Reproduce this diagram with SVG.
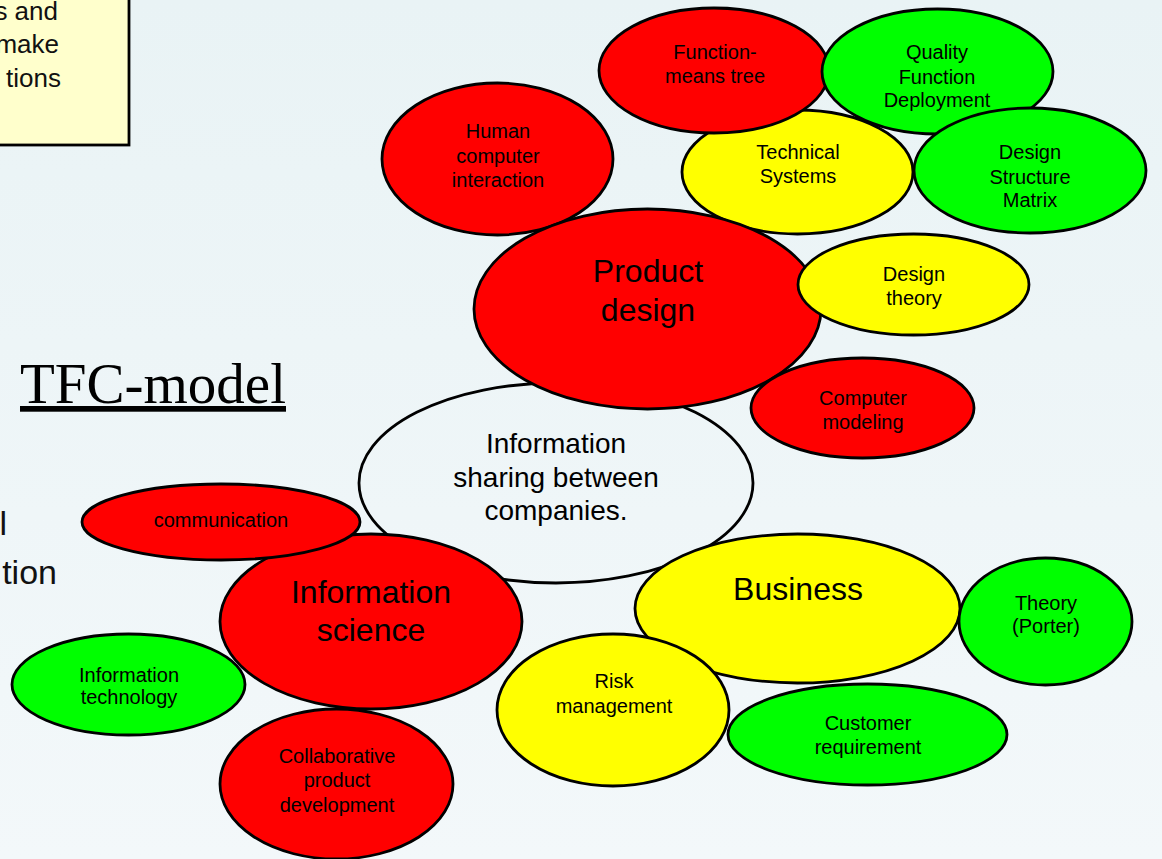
<svg xmlns="http://www.w3.org/2000/svg" width="1162" height="859" viewBox="0 0 1162 859">
  <defs>
    <linearGradient id="bg" x1="0" y1="0" x2="0" y2="1">
      <stop offset="0" stop-color="#e9f3f5"/>
      <stop offset="1" stop-color="#f3f8fa"/>
    </linearGradient>
  </defs>
  <style>
    .bubble { stroke: #000; stroke-width: 2.8; }
    .red { fill: #ff0000; }
    .green { fill: #00ff00; }
    .yellow { fill: #ffff00; }
    .plain { fill: none; }
    text { font-family: "Liberation Sans", Arial, sans-serif; fill: #000; }
    .lbl { font-size: 20px; text-anchor: middle; }
    .mid { font-size: 28px; text-anchor: middle; }
    .big { font-size: 32px; text-anchor: middle; }
    .side { font-size: 34px; text-anchor: end; fill: #111; }
    .note { font-size: 26px; text-anchor: end; fill: #111; }
  </style>

  <rect width="1162" height="859" fill="url(#bg)"/>

  <!-- note box at the top-left edge -->
  <g id="note">
    <rect x="-10" y="-10" width="139" height="155" fill="#ffffcc" stroke="#000" stroke-width="2.8"/>
    <text class="note" x="58" y="20">s and</text>
    <text class="note" x="59" y="53">make</text>
    <text class="note" x="61" y="87">tions</text>
  </g>

  <!-- title -->
  <text id="title" x="20" y="403" font-size="57" text-decoration="underline" style="font-family:'Liberation Serif','Times New Roman',serif">TFC-model</text>

  <!-- side text running off the left edge -->
  <g id="side-text">
    <text class="side" x="7" y="535">l</text>
    <text class="side" x="57" y="584">tion</text>
  </g>

  <g id="connectors"/>

  <g id="info-sharing">
    <ellipse class="bubble plain" cx="556" cy="483" rx="197" ry="100"/>
    <text class="mid" x="556" y="453">Information</text>
    <text class="mid" x="556" y="487">sharing between</text>
    <text class="mid" x="556" y="520">companies.</text>
  </g>

  <g id="hci">
    <ellipse class="bubble red" cx="497.5" cy="159" rx="115.5" ry="76"/>
    <text class="lbl" x="498" y="138">Human</text>
    <text class="lbl" x="498" y="163">computer</text>
    <text class="lbl" x="498" y="187">interaction</text>
  </g>

  <g id="technical-systems">
    <ellipse class="bubble yellow" cx="797.5" cy="172" rx="115.5" ry="62"/>
    <text class="lbl" x="798" y="159">Technical</text>
    <text class="lbl" x="798" y="183">Systems</text>
  </g>

  <g id="function-means-tree">
    <ellipse class="bubble red" cx="714" cy="70.5" rx="115" ry="62.5"/>
    <text class="lbl" x="715" y="59">Function-</text>
    <text class="lbl" x="715" y="83">means tree</text>
  </g>

  <g id="qfd">
    <ellipse class="bubble green" cx="937.5" cy="71.5" rx="115.5" ry="62.5"/>
    <text class="lbl" x="937" y="59">Quality</text>
    <text class="lbl" x="937" y="84">Function</text>
    <text class="lbl" x="937" y="107">Deployment</text>
  </g>

  <g id="dsm">
    <ellipse class="bubble green" cx="1030" cy="170.5" rx="116" ry="62.5"/>
    <text class="lbl" x="1030" y="159">Design</text>
    <text class="lbl" x="1030" y="184">Structure</text>
    <text class="lbl" x="1030" y="207">Matrix</text>
  </g>

  <g id="product-design">
    <ellipse class="bubble red" cx="647.5" cy="309" rx="173.5" ry="100"/>
    <text class="big" x="648" y="282">Product</text>
    <text class="big" x="648" y="321">design</text>
  </g>

  <g id="design-theory">
    <ellipse class="bubble yellow" cx="913.5" cy="284.5" rx="115.5" ry="50.5"/>
    <text class="lbl" x="914" y="281">Design</text>
    <text class="lbl" x="914" y="305">theory</text>
  </g>

  <g id="computer-modeling">
    <ellipse class="bubble red" cx="862.5" cy="408" rx="111.5" ry="50"/>
    <text class="lbl" x="863" y="405">Computer</text>
    <text class="lbl" x="863" y="429">modeling</text>
  </g>

  <g id="information-science">
    <ellipse class="bubble red" cx="371" cy="621.5" rx="151" ry="87.5"/>
    <text class="big" x="371" y="603">Information</text>
    <text class="big" x="371" y="641">science</text>
  </g>

  <g id="communication">
    <ellipse class="bubble red" cx="221" cy="522" rx="139" ry="38"/>
    <text class="lbl" x="221" y="527">communication</text>
  </g>

  <g id="information-technology">
    <ellipse class="bubble green" cx="128.5" cy="684.5" rx="116.5" ry="50.5"/>
    <text class="lbl" x="129" y="682">Information</text>
    <text class="lbl" x="129" y="704">technology</text>
  </g>

  <g id="collaborative-development">
    <ellipse class="bubble red" cx="336.5" cy="784" rx="116.5" ry="75"/>
    <text class="lbl" x="337" y="763">Collaborative</text>
    <text class="lbl" x="337" y="787">product</text>
    <text class="lbl" x="337" y="812">development</text>
  </g>

  <g id="business">
    <ellipse class="bubble yellow" cx="797.5" cy="608.5" rx="162.5" ry="74.5"/>
    <text class="big" x="798" y="600">Business</text>
  </g>

  <g id="theory-porter">
    <ellipse class="bubble green" cx="1045.5" cy="621.5" rx="86.5" ry="63.5"/>
    <text class="lbl" x="1046" y="610">Theory</text>
    <text class="lbl" x="1046" y="633">(Porter)</text>
  </g>

  <g id="risk-management">
    <ellipse class="bubble yellow" cx="613" cy="710" rx="116" ry="76"/>
    <text class="lbl" x="614" y="688">Risk</text>
    <text class="lbl" x="614" y="713">management</text>
  </g>

  <g id="customer-requirement">
    <ellipse class="bubble green" cx="867.5" cy="734.5" rx="139.5" ry="50.5"/>
    <text class="lbl" x="868" y="730">Customer</text>
    <text class="lbl" x="868" y="754">requirement</text>
  </g>
</svg>
